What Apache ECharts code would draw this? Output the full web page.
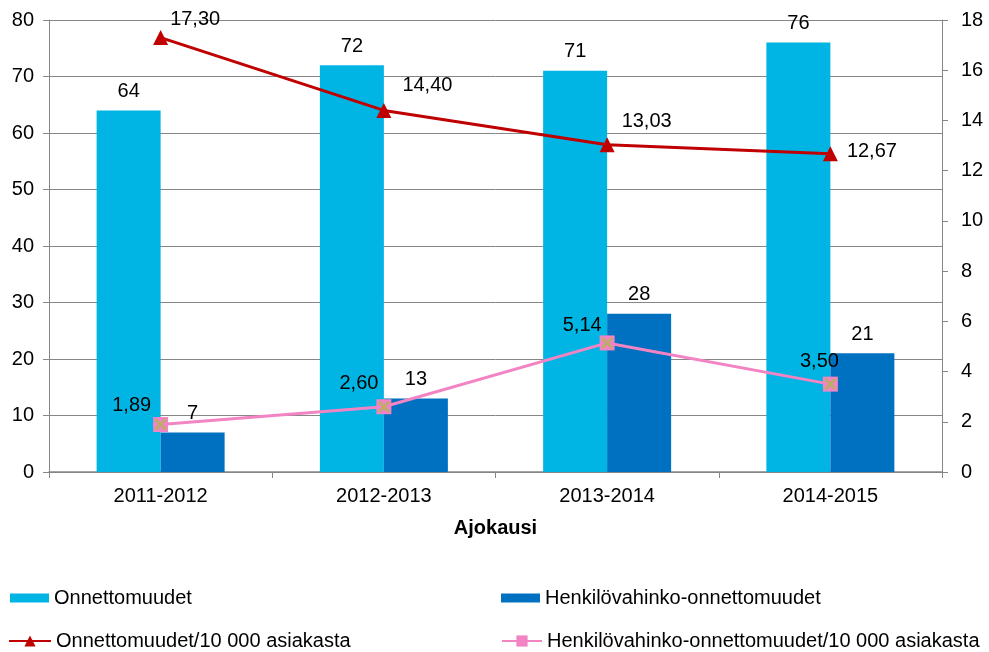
<!DOCTYPE html>
<html>
<head>
<meta charset="utf-8">
<script src="https://cdn.jsdelivr.net/npm/echarts@6/dist/echarts.min.js"></script>
<style>
  html, body { margin: 0; padding: 0; background: #fff; }
  #chart { width: 989px; height: 652px; }
</style>
</head>
<body>
<div id="chart"></div>
<script>
  // data
  var seasons = ['2011-2012', '2012-2013', '2013-2014', '2014-2015']
  var accidents = [64, 72, 71, 76]
  var injuryAccidents = [7, 13, 28, 21]
  var accidentsPer10k = [17.30, 14.40, 13.03, 12.67]
  var injuryPer10k = [1.89, 2.60, 5.14, 3.50]

  var names = ['Onnettomuudet', 'Henkilövahinko-onnettomuudet',
    'Onnettomuudet/10 000 asiakasta', 'Henkilövahinko-onnettomuudet/10 000 asiakasta']

  var font = 'Liberation Sans, Arial, sans-serif'
  var axisGray = '#868686'
  var lightBlue = '#00B4E4'
  var darkBlue = '#0070C0'
  var red = '#C00000'
  var pink = '#F384C4'

  function fi (v) {
    return v.toFixed(2).replace('.', ',')
  }

  // label offsets for the line points (style only)
  var redOffsets = [[-3, -18], [6, -25], [2, -23], [4, -2]]
  var pinkOffsets = [[3, -19], [7, -23], [7, -17], [21, -23]]

  function lineData (values, offsets, pos) {
    return values.map(function (v, i) {
      return {
        value: v,
        label: { position: pos, offset: offsets[i] }
      }
    })
  }

  var chart = echarts.init(document.getElementById('chart'))
  var labelStyle = { color: '#000', fontFamily: font, fontSize: 20 }
  var tickLabel = { color: '#000', fontFamily: font, fontSize: 20 }

  function legendAt (name, left, top, w, h, icon) {
    var lg = {
      data: [name],
      left: left,
      top: top,
      itemWidth: w,
      itemHeight: h,
      itemGap: 0,
      textStyle: { color: '#000', fontFamily: font, fontSize: 20 }
    }
    if (icon) lg.icon = icon
    return lg
  }

  chart.setOption({
    animation: false,
    textStyle: { fontFamily: font },
    grid: { left: 49, right: 47, top: 20, bottom: 180 },
    legend: [
      legendAt(names[0], 5, 583, 39, 9, 'rect'),
      legendAt(names[1], 496, 583, 39, 9, 'rect'),
      legendAt(names[2], 3, 626, 42, 14),
      legendAt(names[3], 496, 626, 40, 14)
    ],
    xAxis: {
      type: 'category',
      data: seasons,
      name: 'Ajokausi',
      nameLocation: 'middle',
      nameGap: 46,
      nameTextStyle: { color: '#000', fontFamily: font, fontSize: 20, fontWeight: 'bold' },
      axisLine: { lineStyle: { color: axisGray, width: 1.5 } },
      axisTick: { show: true, length: 6, lineStyle: { color: axisGray } },
      axisLabel: Object.assign({ margin: 14 }, tickLabel)
    },
    yAxis: [
      {
        type: 'value',
        min: 0,
        max: 80,
        interval: 10,
        axisLine: { show: true, lineStyle: { color: axisGray } },
        axisTick: { show: true, length: 6, lineStyle: { color: axisGray } },
        axisLabel: Object.assign({ margin: 15 }, tickLabel),
        splitLine: { lineStyle: { color: axisGray, width: 1 } }
      },
      {
        type: 'value',
        min: 0,
        max: 18,
        interval: 2,
        position: 'right',
        axisLine: { show: true, lineStyle: { color: axisGray } },
        axisTick: { show: true, length: 6, lineStyle: { color: axisGray } },
        axisLabel: Object.assign({ margin: 19 }, tickLabel),
        splitLine: { show: false }
      }
    ],
    series: [
      {
        name: names[0],
        type: 'bar',
        data: accidents,
        barWidth: 64,
        barGap: '0%',
        itemStyle: { color: lightBlue },
        label: Object.assign({ show: true, position: 'top', distance: 9 }, labelStyle)
      },
      {
        name: names[1],
        type: 'bar',
        data: injuryAccidents,
        barWidth: 64,
        barGap: '0%',
        itemStyle: { color: darkBlue },
        label: Object.assign({ show: true, position: 'top', distance: 9 }, labelStyle)
      },
      {
        name: names[2],
        type: 'line',
        yAxisIndex: 1,
        data: lineData(accidentsPer10k, redOffsets, 'right'),
        symbol: 'triangle',
        symbolSize: 15,
        lineStyle: { color: red, width: 3 },
        itemStyle: { color: red },
        label: Object.assign({ show: true, distance: 5, formatter: function (p) { return fi(p.value) } }, labelStyle),
        z: 5
      },
      {
        name: names[3],
        type: 'line',
        yAxisIndex: 1,
        data: lineData(injuryPer10k, pinkOffsets, 'left'),
        symbol: 'rect',
        symbolSize: 15,
        lineStyle: { color: pink, width: 3 },
        itemStyle: { color: pink },
        label: Object.assign({ show: true, distance: 5, formatter: function (p) { return fi(p.value) } }, labelStyle),
        z: 5
      },
      {
        // the olive cross drawn on the pink squares
        type: 'scatter',
        yAxisIndex: 1,
        data: injuryPer10k,
        symbol: 'path://M0,1.5 L1.5,0 L5,3.5 L8.5,0 L10,1.5 L6.5,5 L10,8.5 L8.5,10 L5,6.5 L1.5,10 L0,8.5 L3.5,5 Z',
        symbolSize: 12,
        itemStyle: { color: '#A9BA4A' },
        silent: true,
        z: 6
      }
    ]
  })
</script>
</body>
</html>
